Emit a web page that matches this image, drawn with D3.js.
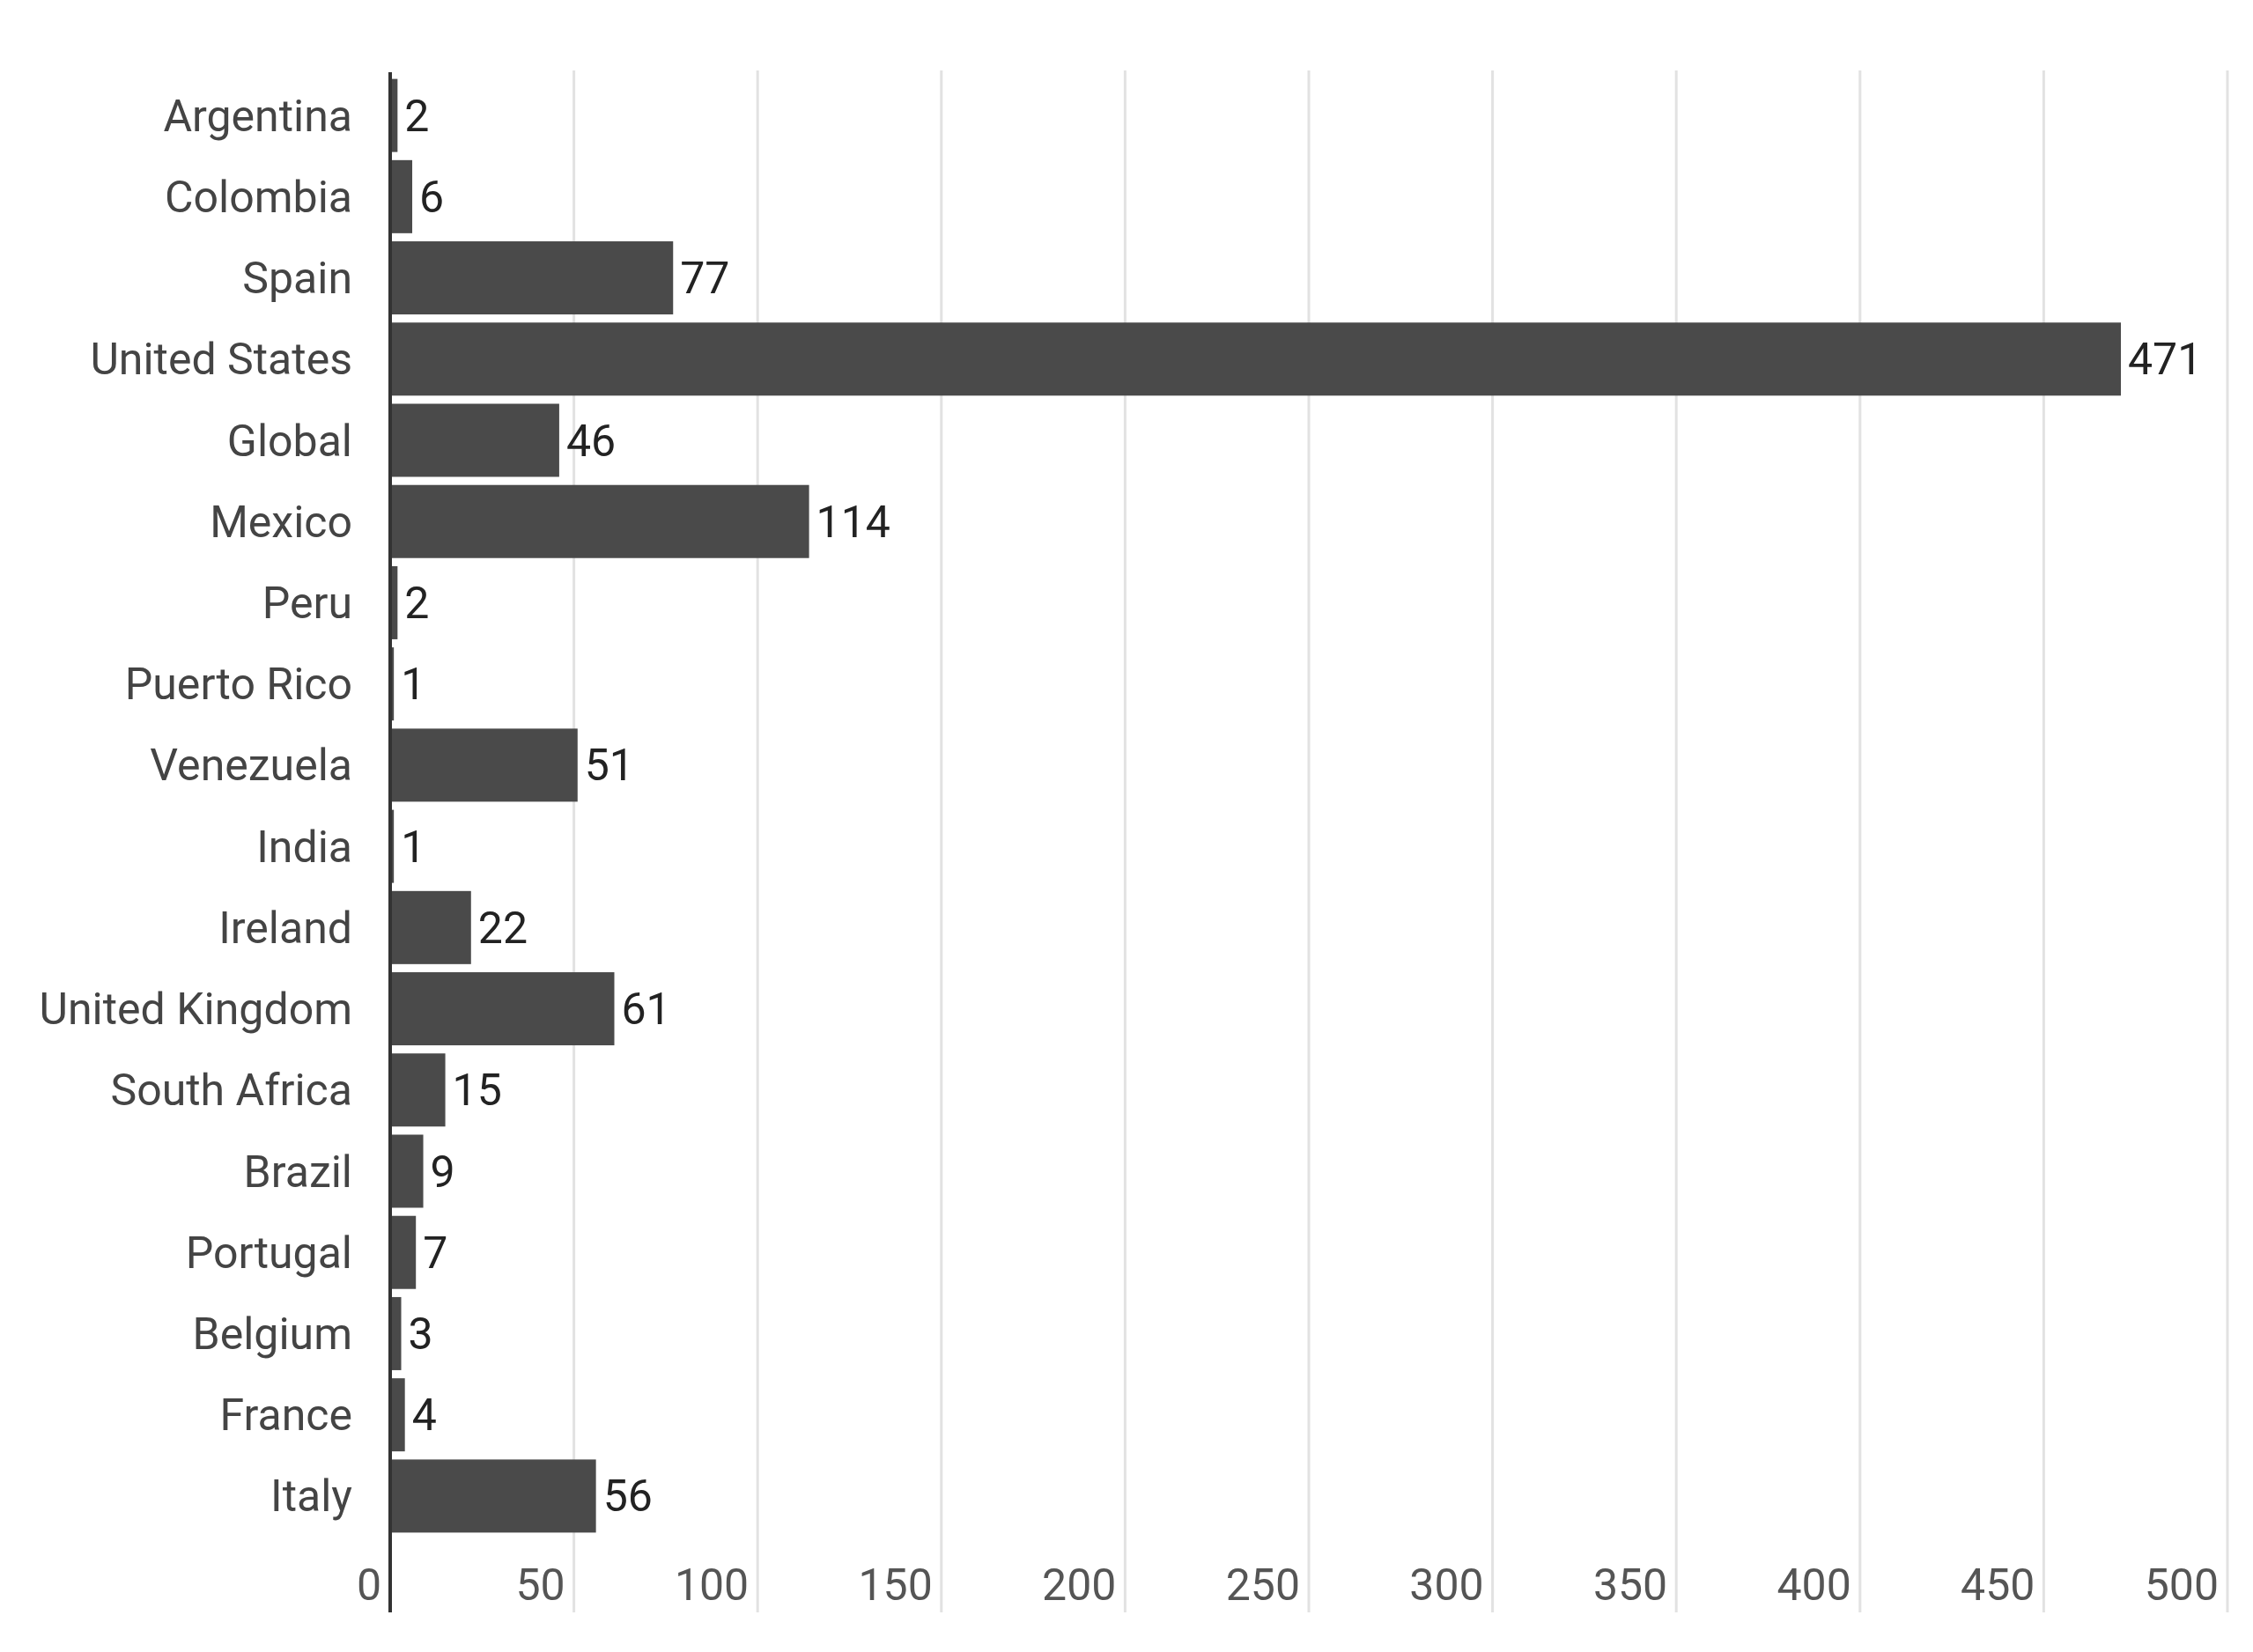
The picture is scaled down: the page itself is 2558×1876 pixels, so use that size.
<!DOCTYPE html>
<html lang="en">
<head>
<meta charset="UTF-8">
<title>Countries</title>
<script src="https://d3js.org/d3.v7.min.js"></script>
<style>
body { margin: 0; background: #fff; }
text { font-family: Roboto, "Noto Sans", sans-serif; }
</style>
</head>
<body>
<svg id="chart" width="2558" height="1876"></svg>
<script>
// data
const countries = ["Argentina","Colombia","Spain","United States","Global","Mexico","Peru","Puerto Rico","Venezuela","India","Ireland","United Kingdom","South Africa","Brazil","Portugal","Belgium","France","Italy"];
const counts = [2,6,77,471,46,114,2,1,51,1,22,61,15,9,7,3,4,56];
const tickValues = [0,50,100,150,200,250,300,350,400,450,500];

const svg = d3.select("#chart");
const x = d3.scaleLinear().domain([0, 500]).range([443, 2529]);
const y = d3.scaleBand().domain(countries).range([85, 1745]).paddingInner(0.1).paddingOuter(0.05);

// vertical gridlines
svg.append("g").selectAll("line").data(tickValues.slice(1)).join("line")
  .attr("x1", d => x(d)).attr("x2", d => x(d))
  .attr("y1", 80).attr("y2", 1831)
  .attr("stroke", "#e2e2e2").attr("stroke-width", 3);

// tick labels (sit just left of their gridline)
svg.append("g").selectAll("text").data(tickValues).join("text")
  .attr("x", d => x(d) - 10).attr("y", 1817)
  .attr("text-anchor", "end")
  .attr("font-size", 50).attr("fill", "#555")
  .text(d => d);

// bars
svg.append("g").selectAll("rect").data(counts).join("rect")
  .attr("x", x(0)).attr("y", (d, i) => y(countries[i]))
  .attr("width", d => x(d) - x(0)).attr("height", y.bandwidth())
  .attr("fill", "#4a4a4a");

// value labels
svg.append("g").selectAll("text").data(counts).join("text")
  .attr("x", d => x(d) + 8).attr("y", (d, i) => y(countries[i]) + y.bandwidth() / 2)
  .attr("dy", "0.35em").attr("font-size", 50).attr("fill", "#222")
  .text(d => d);

// category labels
svg.append("g").selectAll("text").data(countries).join("text")
  .attr("x", 400).attr("y", d => y(d) + y.bandwidth() / 2)
  .attr("dy", "0.35em").attr("text-anchor", "end")
  .attr("font-size", 50).attr("fill", "#444")
  .text(d => d);

// zero axis line
svg.append("line")
  .attr("x1", x(0)).attr("x2", x(0)).attr("y1", 82).attr("y2", 1831)
  .attr("stroke", "#333").attr("stroke-width", 4);
</script>
</body>
</html>
